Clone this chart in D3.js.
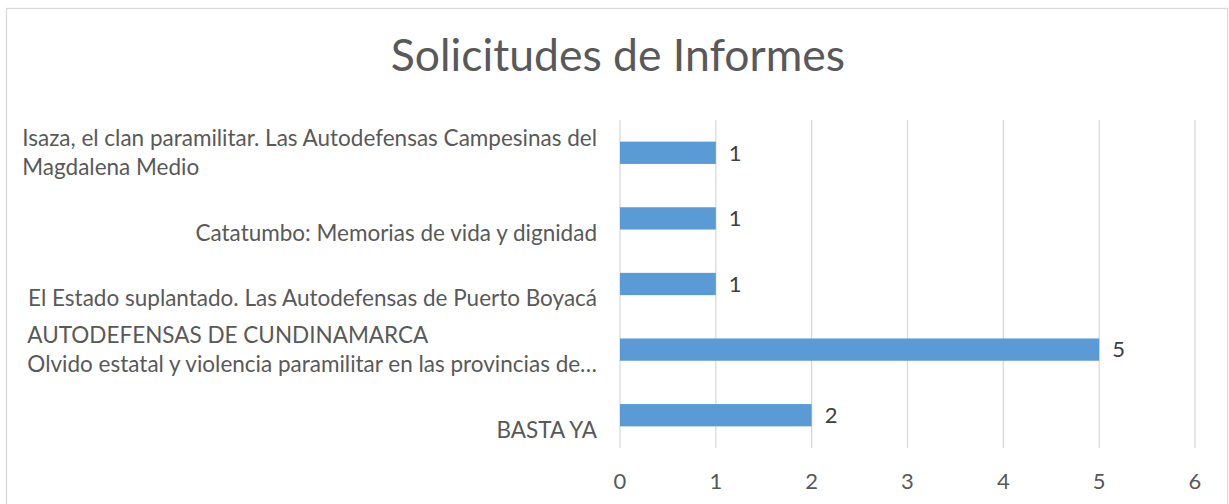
<!DOCTYPE html>
<html>
<head>
<meta charset="utf-8">
<script src="https://cdn.jsdelivr.net/npm/d3@7"></script>
<style>
  body { margin: 0; background: #fff; }
  text { font-family: Lato, 'Open Sans', sans-serif; }
</style>
</head>
<body>
<div id="chart"></div>
<script>
// categories in sheet order (Excel draws the first one at the bottom)
const categories = ['basta', 'cundinamarca', 'estado', 'catatumbo', 'isaza'];
const labelLines = [
    ['', 'BASTA YA'],
    ['AUTODEFENSAS DE CUNDINAMARCA', 'Olvido estatal y violencia paramilitar en las provincias de…'],
    ['', 'El Estado suplantado. Las Autodefensas de Puerto Boyacá'],
    ['', 'Catatumbo: Memorias de vida y dignidad'],
    ['Isaza, el clan paramilitar. Las Autodefensas Campesinas del', 'Magdalena Medio']
];
const values = [2, 5, 1, 1, 1];
const tickValues = [0, 1, 2, 3, 4, 5, 6];
const title = 'Solicitudes de Informes';

const width = 1229;
const height = 504;
const plot = { left: 620, right: 1195, top: 120, bottom: 448 };
const labelRight = 597;
const lineHeight = 29;

const textColor = '#595959';
const barColor = '#5b9bd5';
const gridColor = '#d9d9d9';

const data = categories.map((c, i) => ({ id: c, lines: labelLines[i], value: values[i] }));

const x = d3.scaleLinear()
    .domain([0, 6])
    .range([plot.left, plot.right]);

const y = d3.scaleBand()
    .domain(categories.slice().reverse())
    .range([plot.top, plot.bottom])
    .paddingInner(0.66)
    .paddingOuter(0.33);

const svg = d3.select('#chart')
    .append('svg')
    .attr('width', width)
    .attr('height', height);

// chart border
svg.append('rect')
    .attr('x', 6.5)
    .attr('y', 8.5)
    .attr('width', 1221)
    .attr('height', 520)
    .attr('fill', '#fff')
    .attr('stroke', gridColor)
    .attr('stroke-width', 1.3);

svg.append('text')
    .attr('x', 618)
    .attr('y', 71)
    .attr('text-anchor', 'middle')
    .attr('fill', textColor)
    .style('font-size', '44.5px')
    .text(title);

// vertical gridlines
svg.append('g')
    .selectAll('line')
    .data(tickValues)
    .join('line')
    .attr('x1', d => x(d))
    .attr('x2', d => x(d))
    .attr('y1', plot.top)
    .attr('y2', plot.bottom)
    .attr('stroke', gridColor)
    .attr('stroke-width', 1.3);

// x tick labels
svg.append('g')
    .selectAll('text')
    .data(tickValues)
    .join('text')
    .attr('x', d => x(d))
    .attr('y', 481)
    .attr('dy', '0.35em')
    .attr('text-anchor', 'middle')
    .attr('fill', textColor)
    .style('font-size', '22px')
    .text(d => d);

// bars
svg.append('g')
    .selectAll('rect')
    .data(data)
    .join('rect')
    .attr('x', x(0))
    .attr('y', d => y(d.id))
    .attr('width', d => x(d.value) - x(0))
    .attr('height', y.bandwidth())
    .attr('fill', barColor);

// value labels
svg.append('g')
    .selectAll('text')
    .data(data)
    .join('text')
    .attr('x', d => x(d.value) + 13)
    .attr('y', d => y(d.id) + y.bandwidth() / 2)
    .attr('dy', '0.35em')
    .attr('fill', '#404040')
    .style('font-size', '22px')
    .text(d => d.value);

// category labels: block right-aligned, lines left-aligned inside it
const catLabel = svg.append('g')
    .selectAll('text')
    .data(data)
    .join('text')
    .attr('fill', textColor)
    .style('font-size', '22.5px');

catLabel.each(function (d) {
    const t = d3.select(this);
    const cy = y(d.id) + y.bandwidth() / 2;
    const n = d.lines.length;
    d.lines.forEach((line, i) => {
        t.append('tspan')
            .attr('y', cy + (i - (n - 1) / 2) * lineHeight)
            .attr('dy', '0.35em')
            .text(line);
    });
    const tspans = t.selectAll('tspan').nodes();
    const maxW = d3.max(tspans, s => s.getComputedTextLength());
    t.selectAll('tspan').attr('x', labelRight - maxW);
});
</script>
</body>
</html>
